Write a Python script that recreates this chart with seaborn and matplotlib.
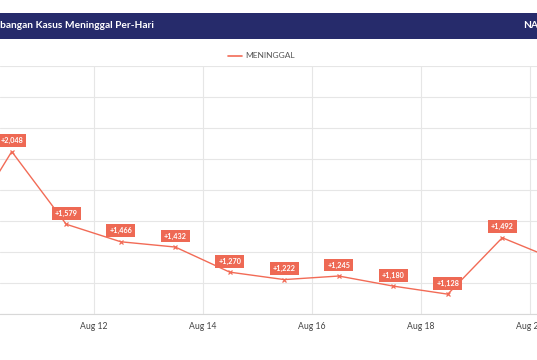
import pandas as pd
import numpy as np
import matplotlib.pyplot as plt
import matplotlib.dates as mdates
import seaborn as sns
from matplotlib.patches import Rectangle

# daily new deaths (Indonesia, Aug 2021)
days = ['2021-08-09', '2021-08-10', '2021-08-11', '2021-08-12', '2021-08-13', '2021-08-14',
        '2021-08-15', '2021-08-16', '2021-08-17', '2021-08-18', '2021-08-19', '2021-08-20']
deaths = [1475, 2048, 1579, 1466, 1432, 1270, 1222, 1245, 1180, 1128, 1492, 1348]
tick_days = ['2021-08-12', '2021-08-14', '2021-08-16', '2021-08-18', '2021-08-20']

df = pd.DataFrame({'tanggal': pd.to_datetime(days) + pd.Timedelta(hours=12), 'meninggal': deaths})

sns.set_style('white')
plt.rcParams['font.family'] = ['Lato', 'DejaVu Sans']

W, H = 537, 360
fig = plt.figure(figsize=(W / 100, H / 100), dpi=100)
line_color = '#f26b56'

# header bar (the source is cropped, so the title runs off both edges)
fig.patches.append(Rectangle((0, 1 - 39 / H), 1, 26 / H, transform=fig.transFigure,
                             facecolor='#262b6b', edgecolor='none', zorder=0))
title = 'Perkembangan Kasus Meninggal Per-Hari'
renderer = fig.canvas.get_renderer()
tmp = fig.text(0, 0, 'Perkem', fontsize=7.3, fontweight='bold')
shift = tmp.get_window_extent(renderer).width
tmp.remove()
fig.text(-shift / W, 1 - 26 / H, title, color='white', fontsize=7.3, fontweight='bold', va='center')
fig.text(523 / W, 1 - 26 / H, 'NASIONAL', color='white', fontsize=7.3, fontweight='bold', va='center')

# legend
fig.lines.append(plt.Line2D([228 / W, 242 / W], [1 - 56 / H] * 2, transform=fig.transFigure,
                            color=line_color, lw=1.2))
fig.text(245 / W, 1 - 56 / H, 'MENINGGAL', color='#555555', fontsize=6, va='center')

ax = fig.add_axes([0, 46 / H, 1, 248 / H])
aug12 = mdates.date2num(pd.Timestamp('2021-08-12'))
ax.set_xlim(aug12 - 93.5 / 54.5, aug12 + (W - 93.5) / 54.5)
ax.set_ylim(1000, 2600)

sns.lineplot(data=df, x='tanggal', y='meninggal', ax=ax, color=line_color, lw=1.0,
             marker='x', markersize=3.5, markeredgewidth=0.9, markeredgecolor=line_color)

for t, v in zip(df['tanggal'], df['meninggal']):
    ax.annotate(f'+{v:,}', (mdates.date2num(t), v), xytext=(0, 11), textcoords='offset pixels',
                ha='center', va='center', fontsize=5.2, color='white', fontweight='bold',
                bbox=dict(boxstyle='square,pad=0.4', fc='#ee6954', ec='none'), annotation_clip=True)

ax.set_xticks(mdates.date2num(pd.to_datetime(tick_days)))
ax.xaxis.set_major_formatter(mdates.DateFormatter('%b %d'))
ax.set_yticks(np.arange(1000, 2601, 200))
ax.set_yticklabels([])
ax.grid(True, color='#e6e6e6', lw=0.8)
ax.tick_params(axis='x', length=0, labelsize=6.2, labelcolor='#444444', pad=6)
ax.tick_params(axis='y', length=0)
for s in ['left', 'right', 'top']:
    ax.spines[s].set_visible(False)
ax.spines['bottom'].set_color('#d8d8d8')
ax.set_xlabel('')
ax.set_ylabel('')
if ax.get_legend():
    ax.get_legend().remove()

fig.savefig('out.png', dpi=100)
